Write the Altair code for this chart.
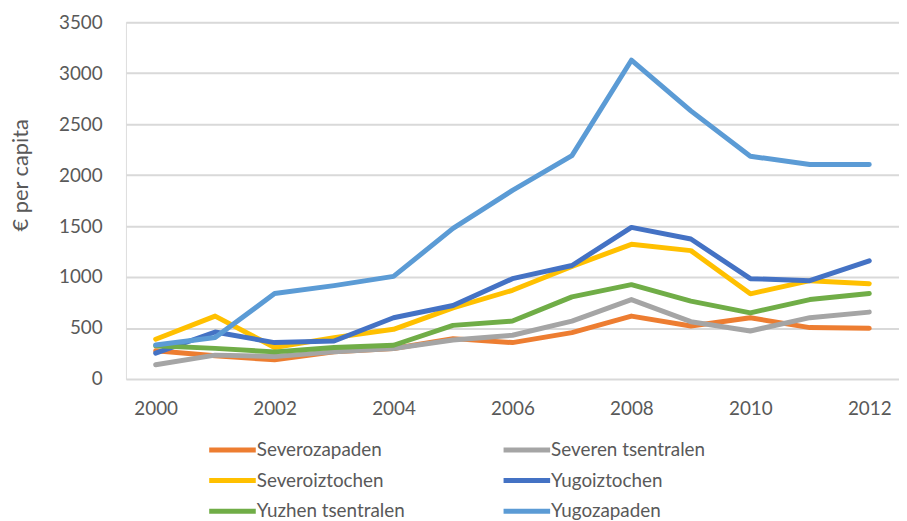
import altair as alt
import pandas as pd

years = list(range(2000, 2013))
series = ["Severozapaden", "Severen tsentralen", "Severoiztochen",
          "Yugoiztochen", "Yuzhen tsentralen", "Yugozapaden"]
colors = ["#ED7D31", "#A5A5A5", "#FFC000", "#4472C4", "#70AD47", "#5B9BD5"]

severozapaden = [276, 227, 188, 266, 299, 396, 357, 455, 617, 519, 601, 504, 497]
severen_tsentralen = [139, 234, 221, 266, 299, 383, 429, 568, 779, 562, 471, 601, 656]
severoiztochen = [390, 617, 309, 406, 487, 698, 870, 1104, 1321, 1259, 835, 964, 935]
yugoiztochen = [253, 461, 357, 373, 601, 721, 984, 1113, 1487, 1373, 984, 964, 1159]
yuzhen_tsentralen = [325, 300, 266, 309, 331, 526, 568, 805, 925, 763, 649, 779, 838]
yugozapaden = [334, 406, 838, 916, 1006, 1477, 1850, 2191, 3127, 2630, 2185, 2104, 2104]

values = [severozapaden, severen_tsentralen, severoiztochen,
          yugoiztochen, yuzhen_tsentralen, yugozapaden]

rows = []
for i, (name, vals) in enumerate(zip(series, values)):
    for y, v in zip(years, vals):
        rows.append({"Year": y, "Value": v, "Region": name, "k": i})
df = pd.DataFrame(rows)

FONT = "Lato"
TXT = "#595959"

chart = alt.Chart(df).mark_line(strokeWidth=5, strokeCap="round", strokeJoin="round").encode(
    x=alt.X("Year:Q",
            scale=alt.Scale(domain=[1999.5, 2012.5], nice=False, zero=False),
            axis=alt.Axis(values=[2000, 2002, 2004, 2006, 2008, 2010, 2012], format="d",
                          title=None, grid=False, domain=False, ticks=False,
                          labelFontSize=19, labelColor=TXT, labelFont=FONT,
                          labelPadding=21)),
    y=alt.Y("Value:Q",
            scale=alt.Scale(domain=[0, 3500], nice=False),
            axis=alt.Axis(values=list(range(0, 3501, 500)), format="d", title="€ per capita",
                          grid=True, gridColor="#d9d9d9", gridWidth=2,
                          domain=False, ticks=False,
                          labelFontSize=19, labelColor=TXT, labelFont=FONT,
                          labelPadding=24,
                          titleFontSize=22, titleColor=TXT, titleFont=FONT,
                          titleFontWeight="normal", titleAngle=270,
                          titleAlign="center", titleBaseline="middle",
                          titleX=-106, titleY=154)),
    color=alt.Color("Region:N",
                    scale=alt.Scale(domain=series, range=colors),
                    legend=alt.Legend(orient="none", legendX=93, legendY=417,
                                      columns=2, direction="horizontal",
                                      title=None, padding=0,
                                      symbolType="M-2,0H2", symbolSize=552,
                                      symbolStrokeWidth=5, symbolFillColor="transparent",
                                      labelFontSize=19, labelColor=TXT, labelFont=FONT,
                                      labelOffset=10, columnPadding=89, rowPadding=6)),
    detail="k:O",
).properties(
    width=780, height=360,
    autosize=alt.AutoSizeParams(type="none"),
    padding={"left": 119, "top": 12, "right": 0, "bottom": 141},
).configure_view(stroke=None).configure(background="white")

chart.save("out.html", embed_options={"renderer": "svg", "actions": False})
